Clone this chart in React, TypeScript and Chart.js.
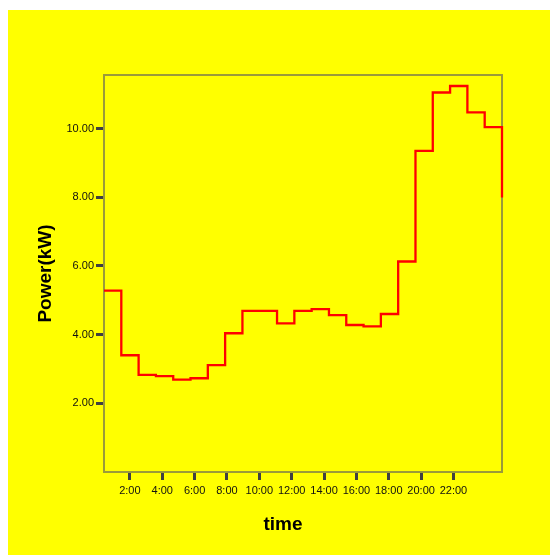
import React, { useEffect, useRef } from "react";
import { Chart, registerables } from "chart.js";

Chart.register(...registerables);

// Hourly categories (one point per hour, the last one closes the final step)
const hours: string[] = [
  "0:00", "1:00", "2:00", "3:00", "4:00", "5:00", "6:00", "7:00",
  "8:00", "9:00", "10:00", "11:00", "12:00", "13:00", "14:00", "15:00",
  "16:00", "17:00", "18:00", "19:00", "20:00", "21:00", "22:00", "23:00",
];

// Power (kW)
const power: number[] = [
  5.28, 3.4, 2.83, 2.79, 2.69, 2.73, 3.11, 4.04,
  4.69, 4.69, 4.33, 4.69, 4.74, 4.57, 4.28, 4.24,
  4.6, 6.13, 9.35, 11.05, 11.24, 10.47, 10.04, 7.99,
];

// Time-axis tick values (hours) and labels
const timeTickValues: number[] = [2, 4, 6, 8, 10, 12, 14, 16, 18, 20, 22];
const timeTickLabels: string[] = [
  "2:00", "4:00", "6:00", "8:00", "10:00", "12:00", "14:00", "16:00", "18:00", "20:00", "22:00",
];

// Power-axis tick values
const powerTickValues: number[] = [2, 4, 6, 8, 10];

const FONT = "'Liberation Sans', Arial, sans-serif";
const FRAME = "#9a9a3a";
const TICK = "#404040";

const framePlugin = {
  id: "frame",
  beforeDatasetsDraw(chart: any) {
    const { ctx, chartArea } = chart;
    ctx.save();
    ctx.strokeStyle = FRAME;
    ctx.lineWidth = 2;
    ctx.strokeRect(chartArea.left, chartArea.top, chartArea.right - chartArea.left, chartArea.bottom - chartArea.top);
    ctx.restore();
  },
};

export default function App() {
  const ref = useRef<HTMLCanvasElement | null>(null);

  useEffect(() => {
    if (!ref.current) return;
    const chart = new Chart(ref.current, {
      type: "line",
      data: {
        labels: hours,
        datasets: [
          {
            data: power,
            xAxisID: "x",
            yAxisID: "y",
            borderColor: "#ff0000",
            borderWidth: 2.3,
            pointRadius: 0,
            stepped: true,
            fill: false,
            clip: 3,
          },
        ],
      },
      plugins: [framePlugin],
      options: {
        animation: false,
        responsive: false,
        layout: { padding: { top: 65, left: 0, right: 0, bottom: 0 } },
        plugins: {
          legend: { display: false },
          tooltip: { enabled: false },
          title: {
            display: true,
            text: "time",
            position: "bottom",
            color: "#000",
            font: { family: FONT, size: 19, weight: "bold" },
            padding: { top: 0, bottom: 18.6 },
          },
        },
        scales: {
          x: {
            type: "category",
            display: false,
            offset: false,
          },
          xt: {
            type: "linear",
            axis: "x",
            position: "bottom",
            min: 0.4,
            max: 25,
            afterBuildTicks: (s: any) => {
              s.ticks = timeTickValues.map((v) => ({ value: v }));
            },
            afterFit: (s: any) => {
              s.height = 41.6;
            },
            border: { display: false },
            grid: {
              drawOnChartArea: false,
              drawTicks: true,
              tickLength: 8,
              tickWidth: 3,
              tickColor: TICK,
            },
            ticks: {
              autoSkip: false,
              maxRotation: 0,
              padding: 4,
              color: "#111",
              font: { family: FONT, size: 11 },
              callback: (_v: any, i: number) => timeTickLabels[i],
            },
          },
          y: {
            type: "linear",
            position: "left",
            min: 0,
            max: 11.56,
            afterBuildTicks: (s: any) => {
              s.ticks = powerTickValues.map((v) => ({ value: v }));
            },
            afterFit: (s: any) => {
              s.width = 96;
            },
            border: { display: false },
            grid: {
              drawOnChartArea: false,
              drawTicks: true,
              tickLength: 8,
              tickWidth: 3,
              tickColor: TICK,
            },
            ticks: {
              padding: 2,
              color: "#111",
              font: { family: FONT, size: 11 },
              callback: (v: any) => Number(v).toFixed(2),
            },
            title: {
              display: true,
              text: "Power(kW)",
              color: "#000",
              font: { family: FONT, size: 19, weight: "bold" },
              padding: { top: 26.6, bottom: 0 },
            },
          },
          yr: {
            type: "linear",
            axis: "y",
            position: "right",
            min: 0,
            max: 1,
            border: { display: false },
            grid: { display: false },
            ticks: { display: false },
            afterFit: (s: any) => {
              s.width = 56;
            },
          },
        },
      },
    } as any);
    return () => chart.destroy();
  }, []);

  return (
    <div style={{ width: 550, height: 545, marginTop: 2 }}>
      <canvas
        ref={ref}
        width={550}
        height={545}
        style={{ display: "block", width: 550, height: 545, background: "#ffff00" }}
      />
    </div>
  );
}
